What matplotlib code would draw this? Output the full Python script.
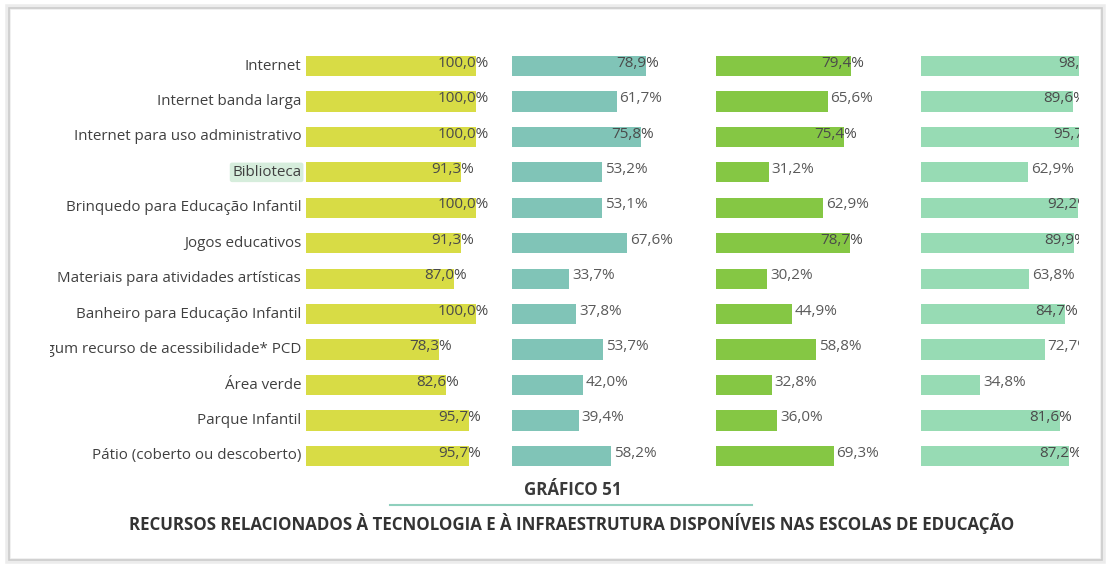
import matplotlib
matplotlib.use('Agg')
import matplotlib.pyplot as plt
from matplotlib.patches import Rectangle
from matplotlib.lines import Line2D
import numpy as np

categories = ['Internet', 'Internet banda larga', 'Internet para uso administrativo',
              'Biblioteca', 'Brinquedo para Educação Infantil', 'Jogos educativos',
              'Materiais para atividades artísticas', 'Banheiro para Educação Infantil',
              'Algum recurso de acessibilidade* PCD', 'Área verde', 'Parque Infantil',
              'Pátio (coberto ou descoberto)']

serie_1 = [100.0, 100.0, 100.0, 91.3, 100.0, 91.3, 87.0, 100.0, 78.3, 82.6, 95.7, 95.7]
serie_2 = [78.9, 61.7, 75.8, 53.2, 53.1, 67.6, 33.7, 37.8, 53.7, 42.0, 39.4, 58.2]
serie_3 = [79.4, 65.6, 75.4, 31.2, 62.9, 78.7, 30.2, 44.9, 58.8, 32.8, 36.0, 69.3]
serie_4 = [98.3, 89.6, 95.7, 62.9, 92.2, 89.9, 63.8, 84.7, 72.7, 34.8, 81.6, 87.2]

series = [serie_1, serie_2, serie_3, serie_4]
colors = ['#d8dc45', '#80c4b7', '#85c744', '#97dbb4']

W, H = 1113, 568
fig = plt.figure(figsize=(W / 100, H / 100), dpi=100)
FONT = 'Open Sans'


def px_axes(x0, y0, x1, y1):
    # pixel box (top-left origin) -> axes
    return fig.add_axes([x0 / W, 1 - y1 / H, (x1 - x0) / W, (y1 - y0) / H])


# frame of the screenshot
fig.patches.append(Rectangle((8 / W, 7 / H), 1095 / W, 554 / H, transform=fig.transFigure,
                             fill=False, edgecolor='#ececec', linewidth=4, zorder=0))
fig.patches.append(Rectangle((9 / W, 8 / H), 1093 / W, 552 / H, transform=fig.transFigure,
                             fill=False, edgecolor='#cccccc', linewidth=1.2, zorder=0))

n = len(categories)
y_pos = np.arange(n)
row = 35.45
top = 66 - row / 2
bottom = top + row * n
scale = 170.0  # pixels for 100%

# category labels (clipped at the left like the screenshot)
lab_ax = px_axes(50, top, 305, bottom)
lab_ax.set_xlim(0, 1)
lab_ax.set_ylim(n - 0.5, -0.5)
lab_ax.axis('off')
for i, c in enumerate(categories):
    kw = {}
    if c == 'Biblioteca':
        kw['bbox'] = dict(boxstyle='round,pad=0.15', facecolor='#d6eddc', edgecolor='none')
    lab_ax.text(0.985, i, c, ha='right', va='center', fontsize=10.9, color='#404040',
                family=FONT, clip_on=True, **kw)

starts = [306, 512, 716, 921]
for k, (vals, col, x0) in enumerate(zip(series, colors, starts)):
    x1 = min(x0 + scale, 1079)
    ax = px_axes(x0, top, x1, bottom)
    ax.set_xlim(0, 100 * (x1 - x0) / scale)
    ax.set_ylim(n - 0.5, -0.5)
    ax.axis('off')
    ax.barh(y_pos, vals, height=0.57, color=col)
    clip = (k == 3)
    for i, v in enumerate(vals):
        txt = '{:.1f}%'.format(v).replace('.', ',')
        if v >= 74:
            ax.text(v + 7.5, i - 0.08, txt, ha='right', va='center', fontsize=11,
                    color='#4a4a4a', family=FONT, clip_on=clip)
        else:
            ax.text(v + 1.6, i - 0.08, txt, ha='left', va='center', fontsize=11,
                    color='#5a5a5a', family=FONT, clip_on=clip)

fig.text(573 / W, 1 - 490 / H, 'GRÁFICO 51', ha='center', va='center', fontsize=12.2,
         fontweight='bold', color='#3a3a3a', family=FONT)
fig.add_artist(Line2D([390 / W, 752 / W], [1 - 505 / H, 1 - 505 / H], color='#8fd0bd',
                      linewidth=1.5, transform=fig.transFigure))
fig.text(572 / W, 1 - 523 / H,
         'RECURSOS RELACIONADOS À TECNOLOGIA E À INFRAESTRUTURA DISPONÍVEIS NAS ESCOLAS DE EDUCAÇÃO',
         ha='center', va='center', fontsize=12.2, fontweight='bold', color='#333333', family=FONT)

fig.savefig('out.png', dpi=100)
